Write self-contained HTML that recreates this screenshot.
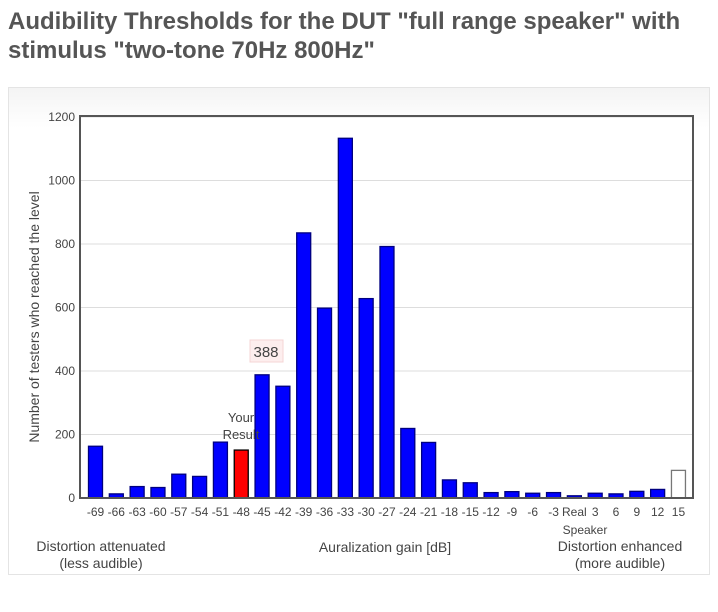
<!DOCTYPE html>
<html><head><meta charset="utf-8"><style>
body{margin:0;background:#fff;width:718px;height:612px;overflow:hidden;font-family:"Liberation Sans",sans-serif;}
h1{position:absolute;left:8px;top:7px;margin:0;font-size:24px;line-height:29px;color:#555;font-weight:bold;}
.box{position:absolute;left:8px;top:87px;width:700px;height:486px;border:1px solid #e4e4e4;background:linear-gradient(#f4f4f4,#fff 40px);}
svg{position:absolute;left:0;top:0;}
text{font-family:"Liberation Sans",sans-serif;fill:#444;}
</style></head><body>
<h1>Audibility Thresholds for the DUT "full range speaker" with<br>stimulus "two-tone 70Hz 800Hz"</h1>
<div class="box"></div>
<svg width="718" height="612" id="s"></svg>
<script>
const vals=[163,13,36,33,75,68,176,151,388,352,835,598,1133,628,792,219,175,57,48,17,20,15,17,7,15,13,21,27,87];
const labs=["-69","-66","-63","-60","-57","-54","-51","-48","-45","-42","-39","-36","-33","-30","-27","-24","-21","-18","-15","-12","-9","-6","-3","Real","3","6","9","12","15"];
let h='<rect x="80" y="116" width="613" height="382" fill="#fff"/>';
for(let v=0;v<=1200;v+=200){let y=498-v*0.3175;h+=`<line x1="80" x2="693" y1="${y}" y2="${y}" stroke="#ddd"/>`;h+=`<text x="75" y="${y+4}" font-size="12" text-anchor="end">${v}</text>`;}
vals.forEach((v,i)=>{let cx=95.5+i*20.82,y=498-v*0.3175;let f=i==7?'#f00':(i==28?'#fff':'#00f'),st=i==7?'#000':(i==28?'#777':'#000080');
h+=`<rect x="${cx-7}" y="${y}" width="14" height="${498-y}" fill="${f}" stroke="${st}" stroke-width="1.3"/>`;
h+=`<text x="${cx}" y="516" font-size="12" text-anchor="middle">${labs[i]}</text>`;});
h+='<text x="585" y="534" font-size="12" text-anchor="middle">Speaker</text>';
h+='<rect x="80" y="116" width="613" height="382" fill="none" stroke="#555" stroke-width="2"/>';
h+='<rect x="250" y="340" width="33" height="22" fill="#fdeeee" stroke="#f5d5d5"/><text x="266" y="357" font-size="15" text-anchor="middle">388</text>';
h+='<text x="241" y="422" font-size="13" text-anchor="middle">Your</text><text x="241" y="439" font-size="13" text-anchor="middle">Result</text>';
h+='<text transform="translate(39,317) rotate(-90)" font-size="14" text-anchor="middle">Number of testers who reached the level</text>';
h+='<text x="101" y="551" font-size="14" text-anchor="middle">Distortion attenuated</text><text x="101" y="568" font-size="14" text-anchor="middle">(less audible)</text>';
h+='<text x="385" y="552" font-size="14" text-anchor="middle">Auralization gain [dB]</text>';
h+='<text x="620" y="551" font-size="14" text-anchor="middle">Distortion enhanced</text><text x="620" y="568" font-size="14" text-anchor="middle">(more audible)</text>';
document.getElementById('s').innerHTML=h;
</script>
</body></html>
